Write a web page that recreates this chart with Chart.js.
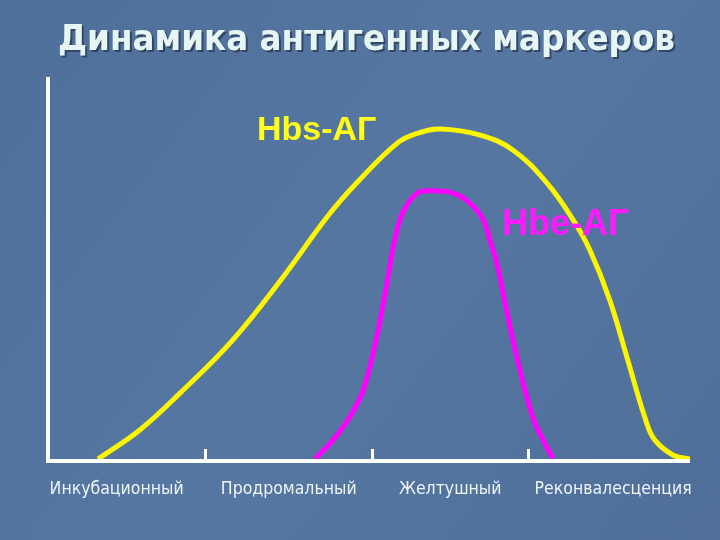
<!DOCTYPE html>
<html>
<head>
<meta charset="utf-8">
<script src="https://cdn.jsdelivr.net/npm/chart.js@4.4.1/dist/chart.umd.min.js"></script>
<style>
  html, body { margin: 0; padding: 0; background: #5474a0; }
  #wrap { width: 720px; height: 540px; position: relative; }
</style>
</head>
<body>
<div id="wrap"><canvas id="c" width="720" height="540"></canvas></div>
<script>
// ---- data ----
const title = "Динамика антигенных маркеров";
const phases = ["Инкубационный", "Продромальный", "Желтушный", "Реконвалесценция"];
const phaseBounds = [0, 24.5, 50.5, 74.8, 100];   // phase borders on the time axis
const hbsLabel = "Hbs-АГ";
const hbsX = [7.8, 14.3, 20.6, 28.8, 36.6, 43.5, 48.1, 54.4, 57.6, 61.1, 67.3, 72.4, 77.7, 81.8, 84.4, 87.5, 90.3, 93.1, 94.5, 97.4, 100];
const hbsY = [0, 7.6, 17.3, 31.2, 47.6, 63.4, 72.3, 82.7, 85.3, 86.4, 84.8, 80.9, 72.3, 62.6, 54.7, 41.6, 25.9, 10.2, 5.0, 1.0, 0];
const hbeLabel = "Hbe-АГ";
const hbeX = [41.6, 44.4, 47.0, 49.1, 51.1, 52.6, 54.0, 55.3, 57.5, 59.5, 63.1, 65.7, 67.8, 68.8, 69.9, 71.5, 73.5, 75.5, 77.1, 78.7];
const hbeY = [0, 5.0, 11.0, 18.1, 31.2, 44.2, 57.3, 64.7, 69.6, 70.2, 69.6, 67.0, 62.6, 57.3, 51.3, 38.2, 23.3, 11.0, 5.0, 0];

const toPts = (xs, ys) => xs.map((x, i) => ({ x: x, y: ys[i] }));

const deco = {
  id: 'deco',
  beforeDraw(chart) {
    const ctx = chart.ctx;
    const W = chart.width, H = chart.height;
    const g = ctx.createLinearGradient(0, 0, W, H);
    g.addColorStop(0, '#4f6f9b');
    g.addColorStop(0.5, '#5677a2');
    g.addColorStop(1, '#4f6f99');
    ctx.save();
    ctx.fillStyle = g;
    ctx.fillRect(0, 0, W, H);
    ctx.restore();
  },
  afterDatasetsDraw(chart) {
    const ctx = chart.ctx;
    const a = chart.chartArea;
    const xs = chart.scales.x;
    ctx.save();
    // axes
    ctx.strokeStyle = '#ffffff';
    ctx.lineWidth = 4;
    ctx.beginPath();
    ctx.moveTo(a.left, a.top);
    ctx.lineTo(a.left, a.bottom + 2);
    ctx.lineTo(a.right, a.bottom + 2);
    ctx.stroke();
    // phase ticks
    ctx.lineWidth = 3;
    for (let i = 1; i < phaseBounds.length - 1; i++) {
      const px = Math.round(xs.getPixelForValue(phaseBounds[i])) + 0.5;
      ctx.beginPath();
      ctx.moveTo(px, a.bottom + 1);
      ctx.lineTo(px, a.bottom - 10);
      ctx.stroke();
    }
    // phase labels
    ctx.fillStyle = '#eef4f8';
    ctx.textAlign = 'center';
    ctx.textBaseline = 'middle';
    ctx.font = '17.5px "DejaVu Sans Condensed", "DejaVu Sans", sans-serif';
    for (let i = 0; i < phases.length; i++) {
      const c = (xs.getPixelForValue(phaseBounds[i]) + xs.getPixelForValue(phaseBounds[i + 1])) / 2;
      ctx.fillText(phases[i], c - (i === 0 ? 10 : 0) + (i === 3 ? 4 : 0), 489);
    }
    // curve labels
    ctx.font = 'bold 34px "Liberation Sans", Arial, sans-serif';
    ctx.textAlign = 'left';
    ctx.textBaseline = 'alphabetic';
    ctx.fillStyle = '#ffff1a';
    ctx.fillText(hbsLabel, 257, 140);
    ctx.font = 'bold 36px "Liberation Sans", Arial, sans-serif';
    ctx.fillStyle = '#ff1aff';
    ctx.fillText(hbeLabel, 502, 235);
    // title
    ctx.font = 'bold 36px "DejaVu Sans Condensed", "DejaVu Sans", sans-serif';
    const tw = ctx.measureText(title).width;
    const sx = 617 / tw;
    ctx.translate(58, 50);
    ctx.scale(sx, 1);
    ctx.fillStyle = 'rgba(30,40,60,0.6)';
    ctx.fillText(title, 2 / sx, 2);
    ctx.fillStyle = '#e6f6f4';
    ctx.fillText(title, 0, 0);
    ctx.restore();
  }
};

new Chart(document.getElementById('c'), {
  type: 'scatter',
  data: {
    datasets: [
      {
        label: hbsLabel,
        data: toPts(hbsX, hbsY),
        showLine: true,
        borderColor: '#fbf500',
        borderWidth: 5,
        pointRadius: 0,
        tension: 0.4,
        fill: false
      },
      {
        label: hbeLabel,
        data: toPts(hbeX, hbeY),
        showLine: true,
        borderColor: '#ff00ff',
        borderWidth: 5,
        pointRadius: 0,
        tension: 0.4,
        fill: false
      }
    ]
  },
  options: {
    responsive: false,
    animation: false,
    devicePixelRatio: 1,
    layout: { padding: { left: 48, right: 30, top: 77, bottom: 81 } },
    plugins: { legend: { display: false }, tooltip: { enabled: false }, title: { display: false } },
    scales: {
      x: { type: 'linear', min: 0, max: 100, display: false },
      y: { type: 'linear', min: 0, max: 100, display: false }
    }
  },
  plugins: [deco]
});
</script>
</body>
</html>
